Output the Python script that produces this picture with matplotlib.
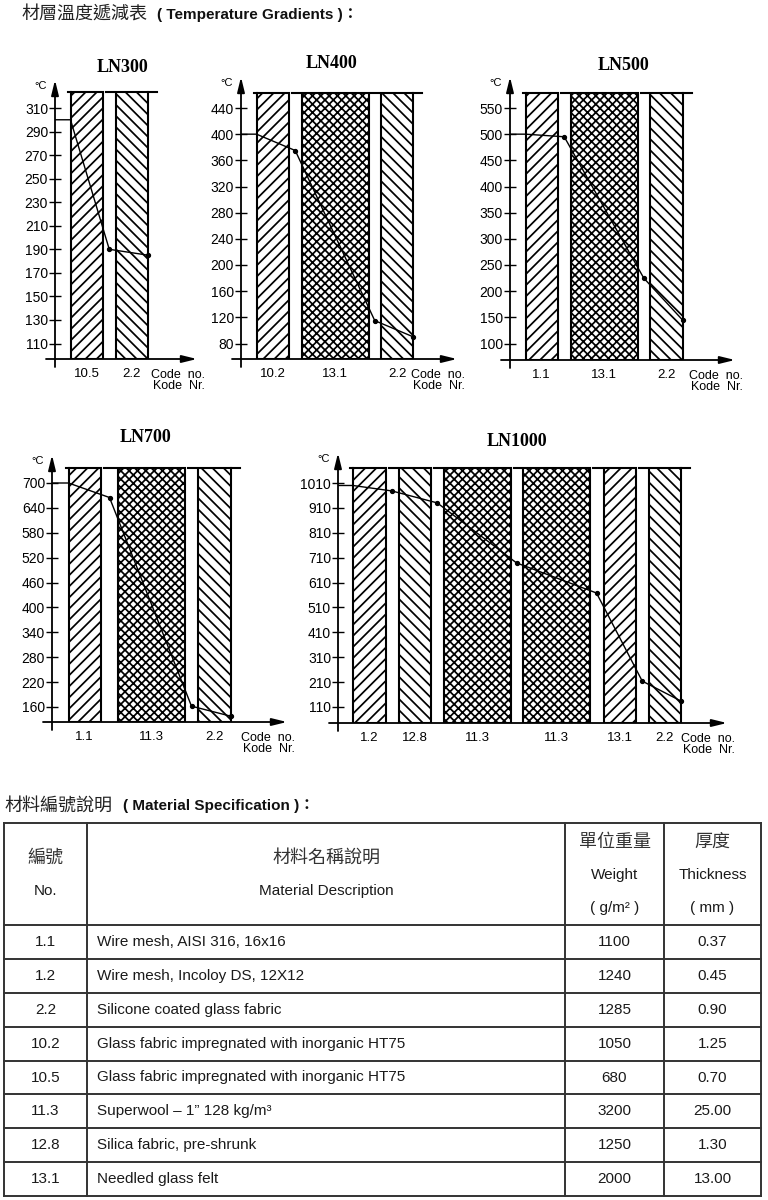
import matplotlib
matplotlib.use("Agg")
import matplotlib.pyplot as plt
from matplotlib import font_manager as fm
import numpy as np

# fonts
_names = {f.name for f in fm.fontManager.ttflist}
NARROW = 'Liberation Sans Narrow' if 'Liberation Sans Narrow' in _names else 'Liberation Sans'
CJK = 'Noto Sans CJK TC'
plt.rcParams['font.family'] = ['Liberation Sans', CJK, 'DejaVu Sans']
plt.rcParams['hatch.linewidth'] = 1.25

# ---- data: temperature gradients ----
LN300_codes = ['10.5', '2.2']
LN300_temps = [300, 190, 185]
LN300_yticks = [110, 130, 150, 170, 190, 210, 230, 250, 270, 290, 310]

LN400_codes = ['10.2', '13.1', '2.2']
LN400_temps = [400, 375, 115, 90]
LN400_yticks = [80, 120, 160, 200, 240, 280, 320, 360, 400, 440]

LN500_codes = ['1.1', '13.1', '2.2']
LN500_temps = [500, 495, 225, 145]
LN500_yticks = [100, 150, 200, 250, 300, 350, 400, 450, 500, 550]

LN700_codes = ['1.1', '11.3', '2.2']
LN700_temps = [700, 665, 162, 138]
LN700_yticks = [160, 220, 280, 340, 400, 460, 520, 580, 640, 700]

LN1000_codes = ['1.2', '12.8', '11.3', '11.3', '13.1', '2.2']
LN1000_temps = [1000, 978, 930, 689, 568, 214, 134]
LN1000_yticks = [110, 210, 310, 410, 510, 610, 710, 810, 910, 1010]

# ---- data: material table ----
mat_no = ['1.1', '1.2', '2.2', '10.2', '10.5', '11.3', '12.8', '13.1']
mat_desc = ['Wire mesh, AISI 316, 16x16',
            'Wire mesh, Incoloy DS, 12X12',
            'Silicone coated glass fabric',
            'Glass fabric impregnated with inorganic HT75',
            'Glass fabric impregnated with inorganic HT75',
            'Superwool \u2013 1\u201d 128 kg/m\u00b3',
            'Silica fabric, pre-shrunk',
            'Needled glass felt']
mat_weight = ['1100', '1240', '1285', '1050', '680', '3200', '1250', '2000']
mat_thick = ['0.37', '0.45', '0.90', '1.25', '0.70', '25.00', '1.30', '13.00']

# ---- layout (pixels) ----
W, H = 768, 1200
SINGLE, DOUBLE = 32.5, 67.0
H1, H2, H3 = '///', '\\\\\\', 'xxxx'
ROW1 = dict(tick_top=108, tick_bot=343.5, bar_top=92.5)
ROW2 = dict(tick_top=483, tick_bot=707, bar_top=468)

panels = [
    dict(name='LN300', codes=LN300_codes, temps=LN300_temps, yticks=LN300_yticks, row=ROW1,
         ax_x=55, base=359, tip_x=197, tip_y=80, lead=15.5, gaps=[12.5],
         wide=[0, 0], hatch=[H1, H2], title=(123, 67)),
    dict(name='LN400', codes=LN400_codes, temps=LN400_temps, yticks=LN400_yticks, row=ROW1,
         ax_x=241, base=359, tip_x=457, tip_y=77, lead=15.5, gaps=[12.5, 12.5],
         wide=[0, 1, 0], hatch=[H1, H3, H2], title=(332, 63)),
    dict(name='LN500', codes=LN500_codes, temps=LN500_temps, yticks=LN500_yticks, row=ROW1,
         ax_x=510, base=360, tip_x=735, tip_y=77, lead=15.5, gaps=[12.5, 12.5],
         wide=[0, 1, 0], hatch=[H1, H3, H2], title=(624, 65)),
    dict(name='LN700', codes=LN700_codes, temps=LN700_temps, yticks=LN700_yticks, row=ROW2,
         ax_x=52, base=722, tip_x=287, tip_y=455, lead=16.5, gaps=[17, 13],
         wide=[0, 1, 0], hatch=[H1, H3, H2], title=(146, 438)),
    dict(name='LN1000', codes=LN1000_codes, temps=LN1000_temps, yticks=LN1000_yticks, row=ROW2,
         ax_x=338, base=723, tip_x=727, tip_y=453, lead=15, gaps=[13, 12.5, 12, 14, 12.5],
         wide=[0, 0, 1, 1, 0, 0], hatch=[H1, H2, H3, H3, H1, H2], title=(517, 441)),
]

fig = plt.figure(figsize=(W / 100, H / 100), dpi=100)
bg = fig.add_axes([0, 0, 1, 1])
bg.set_xlim(0, W)
bg.set_ylim(H, 0)
bg.axis('off')

arrow = dict(arrowstyle='-|>,head_length=0.9,head_width=0.22', color='k', lw=1.3,
             shrinkA=0, shrinkB=0)

for p in panels:
    r = p['row']
    vt, vb = p['yticks'][-1], p['yticks'][0]
    k = (vt - vb) / (r['tick_bot'] - r['tick_top'])
    ymin = vb - (p['base'] - r['tick_bot']) * k
    ymax = vt + (r['tick_top'] - p['tip_y']) * k
    ytop = vt + (r['tick_top'] - r['bar_top']) * k
    wpx = p['tip_x'] - p['ax_x']
    hpx = p['base'] - p['tip_y']
    ax = fig.add_axes([p['ax_x'] / W, 1 - p['base'] / H, wpx / W, hpx / H])
    ax.set_xlim(0, wpx)
    ax.set_ylim(ymin, ymax)
    ax.patch.set_alpha(0)
    for s in ax.spines.values():
        s.set_visible(False)

    widths = [DOUBLE if w else SINGLE for w in p['wide']]
    lefts = [p['lead']]
    for i in range(1, len(widths)):
        lefts.append(lefts[-1] + widths[i - 1] + p['gaps'][i - 1])
    lefts = np.array(lefts)
    widths = np.array(widths)
    centers = lefts + widths / 2

    for c, w, h in zip(centers, widths, p['hatch']):
        ax.bar(c, ytop - ymin, bottom=ymin, width=w, facecolor='white',
               edgecolor='k', linewidth=1.5, hatch=h, zorder=2)
    # top line with short dashes in the gaps
    ax.plot([lefts[0] - 3, lefts[0]], [ytop, ytop], color='k', lw=1.5, zorder=3)
    ax.plot([lefts[-1] + widths[-1], lefts[-1] + widths[-1] + 9], [ytop, ytop],
            color='k', lw=1.5, zorder=3)
    for i in range(len(widths) - 1):
        g0 = lefts[i] + widths[i]
        g1 = lefts[i + 1]
        ax.plot([g0 + 3, g1 - 2], [ytop, ytop], color='k', lw=1.5, zorder=3)

    # temperature gradient
    gap_mid = [(lefts[i] + widths[i] + lefts[i + 1]) / 2 for i in range(len(widths) - 1)]
    xs = [0, lefts[0]] + gap_mid + [lefts[-1] + widths[-1]]
    ys = [p['temps'][0]] + list(p['temps'])
    ax.plot(xs, ys, color='k', lw=1.0, zorder=4)
    ax.plot(xs[2:], ys[2:], 'o', color='k', ms=2.8, zorder=5)

    # axes with arrows
    ax.annotate('', xy=(0, 1), xytext=(0, -8 / hpx), xycoords='axes fraction',
                textcoords='axes fraction', arrowprops=arrow, annotation_clip=False)
    ax.annotate('', xy=(1, 0), xytext=(-9 / wpx, 0), xycoords='axes fraction',
                textcoords='axes fraction', arrowprops=arrow, annotation_clip=False)

    ax.set_yticks(p['yticks'])
    ax.tick_params(axis='y', direction='inout', length=8, width=1.0, labelsize=10, pad=1)
    ax.set_xticks(centers, p['codes'])
    ax.tick_params(axis='x', length=0, labelsize=9.5, pad=6.5)

    ax.annotate('\u00b0C', xy=(0, 1), xytext=(-10, -1), xycoords='axes fraction',
                textcoords='offset points', ha='center', va='top', fontsize=8)
    ax.annotate('Code  no.\nKode  Nr.', xy=(1, 0), xycoords='axes fraction',
                xytext=(6, -7), textcoords='offset points', ha='right', va='top',
                fontsize=9, linespacing=0.9)

    bg.text(p['title'][0], p['title'][1], p['name'], ha='center', va='center',
            fontsize=13, fontweight='bold', family='Liberation Serif')

# ---- section titles ----
narrow = NARROW != 'Liberation Sans'
cjk_kw = dict(family=[CJK, 'DejaVu Sans'], fontsize=13, color='#222222', va='center')
bold_kw = dict(family=[NARROW, CJK], fontsize=12.5 if narrow else 11,
               fontweight='bold', color='#111111', va='center')
bg.text(21, 15, '材層溫度遞減表', **cjk_kw)
bg.text(157, 15, '( Temperature Gradients )\uff1a', **bold_kw)
bg.text(4, 806, '材料編號說明', **cjk_kw)
bg.text(123, 806, '( Material Specification )\uff1a', **bold_kw)

# ---- table ----
cols = [4, 87, 565, 664, 761]
rows = [823, 925, 959, 993, 1027, 1061, 1094, 1128, 1162, 1196]
lc = '#333333'
for x in cols:
    bg.plot([x, x], [rows[0], rows[-1]], color=lc, lw=1.4)
for y in rows:
    bg.plot([cols[0], cols[-1]], [y, y], color=lc, lw=1.4)

tsize = 12 if narrow else 11
txt = dict(family=[NARROW, CJK], fontsize=tsize, color='#1a1a1a', va='center')
hcjk = dict(family=[CJK, 'DejaVu Sans'], fontsize=13, color='#333333', va='center', ha='center')
c_no = (cols[0] + cols[1]) / 2
c_desc = (cols[1] + cols[2]) / 2
c_w = (cols[2] + cols[3]) / 2
c_t = (cols[3] + cols[4]) / 2
bg.text(c_no, 858, '編號', **hcjk)
bg.text(c_no, 891, 'No.', ha='center', **txt)
bg.text(c_desc, 858, '材料名稱說明', **hcjk)
bg.text(c_desc, 891, 'Material Description', ha='center', **txt)
bg.text(c_w, 842, '單位重量', **hcjk)
bg.text(c_w, 875, 'Weight', ha='center', **txt)
bg.text(c_w, 908, '( g/m\u00b2 )', ha='center', **txt)
bg.text(c_t, 842, '厚度', **hcjk)
bg.text(c_t, 875, 'Thickness', ha='center', **txt)
bg.text(c_t, 908, '( mm )', ha='center', **txt)

for i in range(len(mat_no)):
    yc = (rows[i + 1] + rows[i + 2]) / 2
    bg.text(c_no, yc, mat_no[i], ha='center', **txt)
    bg.text(cols[1] + 10, yc, mat_desc[i], ha='left', **txt)
    bg.text(c_w, yc, mat_weight[i], ha='center', **txt)
    bg.text(c_t, yc, mat_thick[i], ha='center', **txt)

fig.savefig('out.png', dpi=100)
